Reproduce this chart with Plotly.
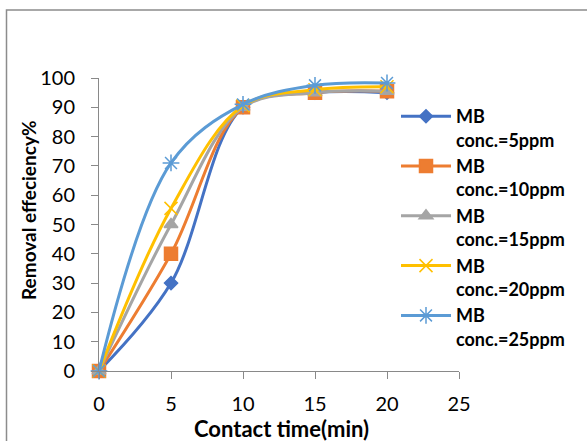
import plotly.graph_objects as go

time_min = [0, 5, 10, 15, 20]
names = ["<b>MB<br>conc.=5ppm</b>", "<b>MB<br>conc.=10ppm</b>", "<b>MB<br>conc.=15ppm</b>",
         "<b>MB<br>conc.=20ppm</b>", "<b>MB<br>conc.=25ppm</b>"]
eff_5 = [0, 30, 90, 95, 95]
eff_10 = [0, 40, 90, 95, 95.5]
eff_15 = [0, 50, 90, 95, 95.5]
eff_20 = [0, 55.5, 90.5, 96, 97]
eff_25 = [0, 71, 91, 97.5, 98.3]
x_ticks = [0, 5, 10, 15, 20, 25]
y_ticks = [0, 10, 20, 30, 40, 50, 60, 70, 80, 90, 100]

colors = ["#4472C4", "#ED7D31", "#A5A5A5", "#FFC000", "#5B9BD5"]
symbols = ["diamond", "square", "triangle-up", "x-thin-open", "asterisk-open"]
msizes = [10, 13, 12, 13, 14]
series = [eff_5, eff_10, eff_15, eff_20, eff_25]

FONT = "Lato, Carlito, sans-serif"

fig = go.Figure()
for nm, ys, c, s, ms in zip(names, series, colors, symbols, msizes):
    fig.add_trace(go.Scatter(
        x=time_min, y=ys, name=nm, mode="lines+markers",
        line=dict(color=c, width=3, shape="spline", smoothing=1.0),
        marker=dict(symbol=s, size=ms, color=c, line=dict(color=c, width=1.5)),
        cliponaxis=False,
    ))

L, R, T, B = 99, 128, 78, 70
W, H = 587, 441
pw, ph = W - L - R, H - T - B

def px(xp):
    return (xp - L) / pw

def py(yp):
    return (H - B - yp) / ph

fig.add_shape(type="rect", xref="paper", yref="paper",
              x0=px(6.5), x1=px(592), y0=py(460), y1=py(10),
              line=dict(color="#8C8C8C", width=1.5), layer="below")

axis_common = dict(showgrid=False, zeroline=False, showline=True,
                   linecolor="#898989", linewidth=1, ticks="outside",
                   tickcolor="#898989", ticklen=7,
                   tickfont=dict(family=FONT, size=20, color="#000"))

fig.update_layout(
    width=W, height=H,
    margin=dict(l=L, r=R, t=T, b=B),
    plot_bgcolor="white", paper_bgcolor="white",
    xaxis=dict(range=[0, 25], tickvals=x_ticks, ticklabelstandoff=8, **axis_common),
    yaxis=dict(range=[0, 100], tickvals=y_ticks, ticklabelstandoff=12, **axis_common),
    legend=dict(x=px(396), y=py(98), xanchor="left", yanchor="top",
                font=dict(family=FONT, size=18, color="#000"),
                valign="top", itemwidth=50, bgcolor="rgba(0,0,0,0)"),
    showlegend=True,
    annotations=[
        dict(text="<b>Contact time(min)</b>", xref="paper", yref="paper",
             x=px(281), y=py(428), xanchor="center", yanchor="middle",
             showarrow=False, font=dict(family=FONT, size=22, color="#000")),
        dict(text="<b>Removal effeciency%</b>", xref="paper", yref="paper",
             x=px(28), y=py(211), xanchor="center", yanchor="middle", textangle=-90,
             showarrow=False, font=dict(family=FONT, size=19, color="#000")),
    ],
)

fig.write_html("out.html")
